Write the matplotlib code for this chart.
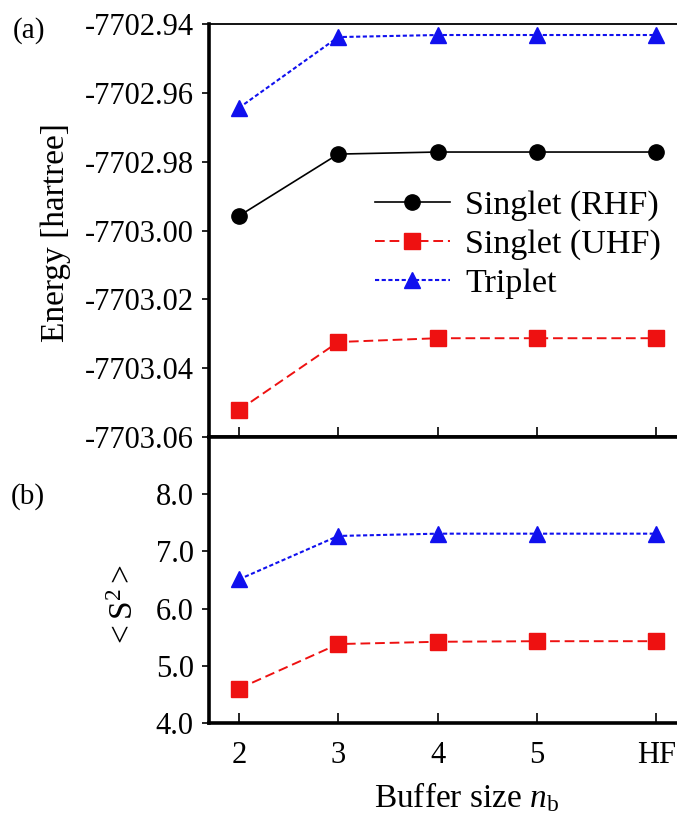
import matplotlib
matplotlib.use('Agg')
import matplotlib.pyplot as plt

plt.rcParams['font.family'] = 'Liberation Serif'
plt.rcParams['mathtext.fontset'] = 'custom'
plt.rcParams['mathtext.rm'] = 'Liberation Serif'
plt.rcParams['mathtext.it'] = 'Liberation Serif:italic'

# buffer sizes; the last column is the full HF reference
buffer_labels = ['2', '3', '4', '5', 'HF']
buffer_pos = [2, 3, 4, 5, 6.2]

energy_rhf = [-7702.9958, -7702.9778, -7702.9772, -7702.9772, -7702.9772]
energy_uhf = [-7703.0522, -7703.0324, -7703.0313, -7703.0313, -7703.0313]
energy_triplet = [-7702.9644, -7702.9438, -7702.9432, -7702.9432, -7702.9432]

s2_uhf = [4.60, 5.38, 5.42, 5.43, 5.43]
s2_triplet = [6.51, 7.27, 7.31, 7.31, 7.31]

styles = {
    'rhf': dict(color='black', marker='o', ls='-', lw=1.2, ms=11),
    'uhf': dict(color='#ee1111', marker='s', ls=(0, (5, 2.5)), lw=1.4, ms=11.5),
    'tri': dict(color='#1010ee', marker='^', ls=(0, (2, 1.2)), lw=1.5, ms=12),
}

fig = plt.figure(figsize=(6.77, 8.14), dpi=100)
W = 677.0
H = 814.0
left = 209 / W
right = 686 / W
ax1 = fig.add_axes([left, 1 - 437 / H, right - left, (437 - 24) / H])
ax2 = fig.add_axes([left, 1 - 723 / H, right - left, (723 - 437) / H])

ax1.plot(buffer_pos, energy_rhf, label='Singlet (RHF)', **styles['rhf'])
ax1.plot(buffer_pos, energy_uhf, label='Singlet (UHF)', **styles['uhf'])
ax1.plot(buffer_pos, energy_triplet, label='Triplet', **styles['tri'])

ax2.plot(buffer_pos, s2_uhf, **styles['uhf'])
ax2.plot(buffer_pos, s2_triplet, **styles['tri'])

for ax in (ax1, ax2):
    ax.set_xlim(1.7, 6.5)
    ax.set_xticks(buffer_pos)
    ax.spines['right'].set_visible(False)
    ax.spines['left'].set_linewidth(2.6)
    ax.spines['bottom'].set_linewidth(2.6)
    ax.tick_params(axis='y', direction='out', length=5, width=1.2,
                   labelsize=22, pad=6)
    ax.tick_params(axis='x', direction='in', length=7, width=1.2,
                   labelsize=22, pad=13)

ax1.set_ylim(-7703.06, -7702.94)
ax1.set_yticks([-7703.06, -7703.04, -7703.02, -7703.00, -7702.98,
                -7702.96, -7702.94])
ax1.set_yticklabels(['-7703.06', '-7703.04', '-7703.02', '-7703.00',
                     '-7702.98', '-7702.96', '-7702.94'])
ax1.spines['top'].set_linewidth(1.3)
ax1.tick_params(axis='x', labelbottom=False)
ax1.set_ylabel('Energy [hartree]', fontsize=24)
ax1.yaxis.set_label_coords(-0.29, 0.494)

# the 9.0 tick would sit on the panel border, so it is left out
ax2.set_ylim(4.0, 9.0)
ax2.set_yticks([4.0, 5.0, 6.0, 7.0, 8.0])
ax2.set_yticklabels(['4.0', '5.0', '6.0', '7.0', '8.0'])
ax2.spines['top'].set_linewidth(2.6)
ax2.set_xticklabels(buffer_labels)
ax2.set_ylabel(r'$<\mathrm{S}^2>$', fontsize=24)
ax2.yaxis.set_label_coords(-0.145, 0.409)
ax2.set_xlabel(r'Buffer size $n_\mathrm{b}$', fontsize=24)
ax2.xaxis.set_label_coords((467 / W - left) / (right - left), -0.2)

ax1.legend(loc='upper left', bbox_to_anchor=(375 / W, 1 - 190 / H),
           bbox_transform=fig.transFigure, frameon=False, fontsize=24.5,
           handlelength=2.2, handletextpad=0.45, labelspacing=0.23,
           borderpad=0, borderaxespad=0)

fig.text(13 / W, 1 - 31 / H, '(a)', fontsize=21, va='center')
fig.text(11 / W, 1 - 497 / H, '(b)', fontsize=21, va='center')

fig.savefig('out.png', dpi=100)
